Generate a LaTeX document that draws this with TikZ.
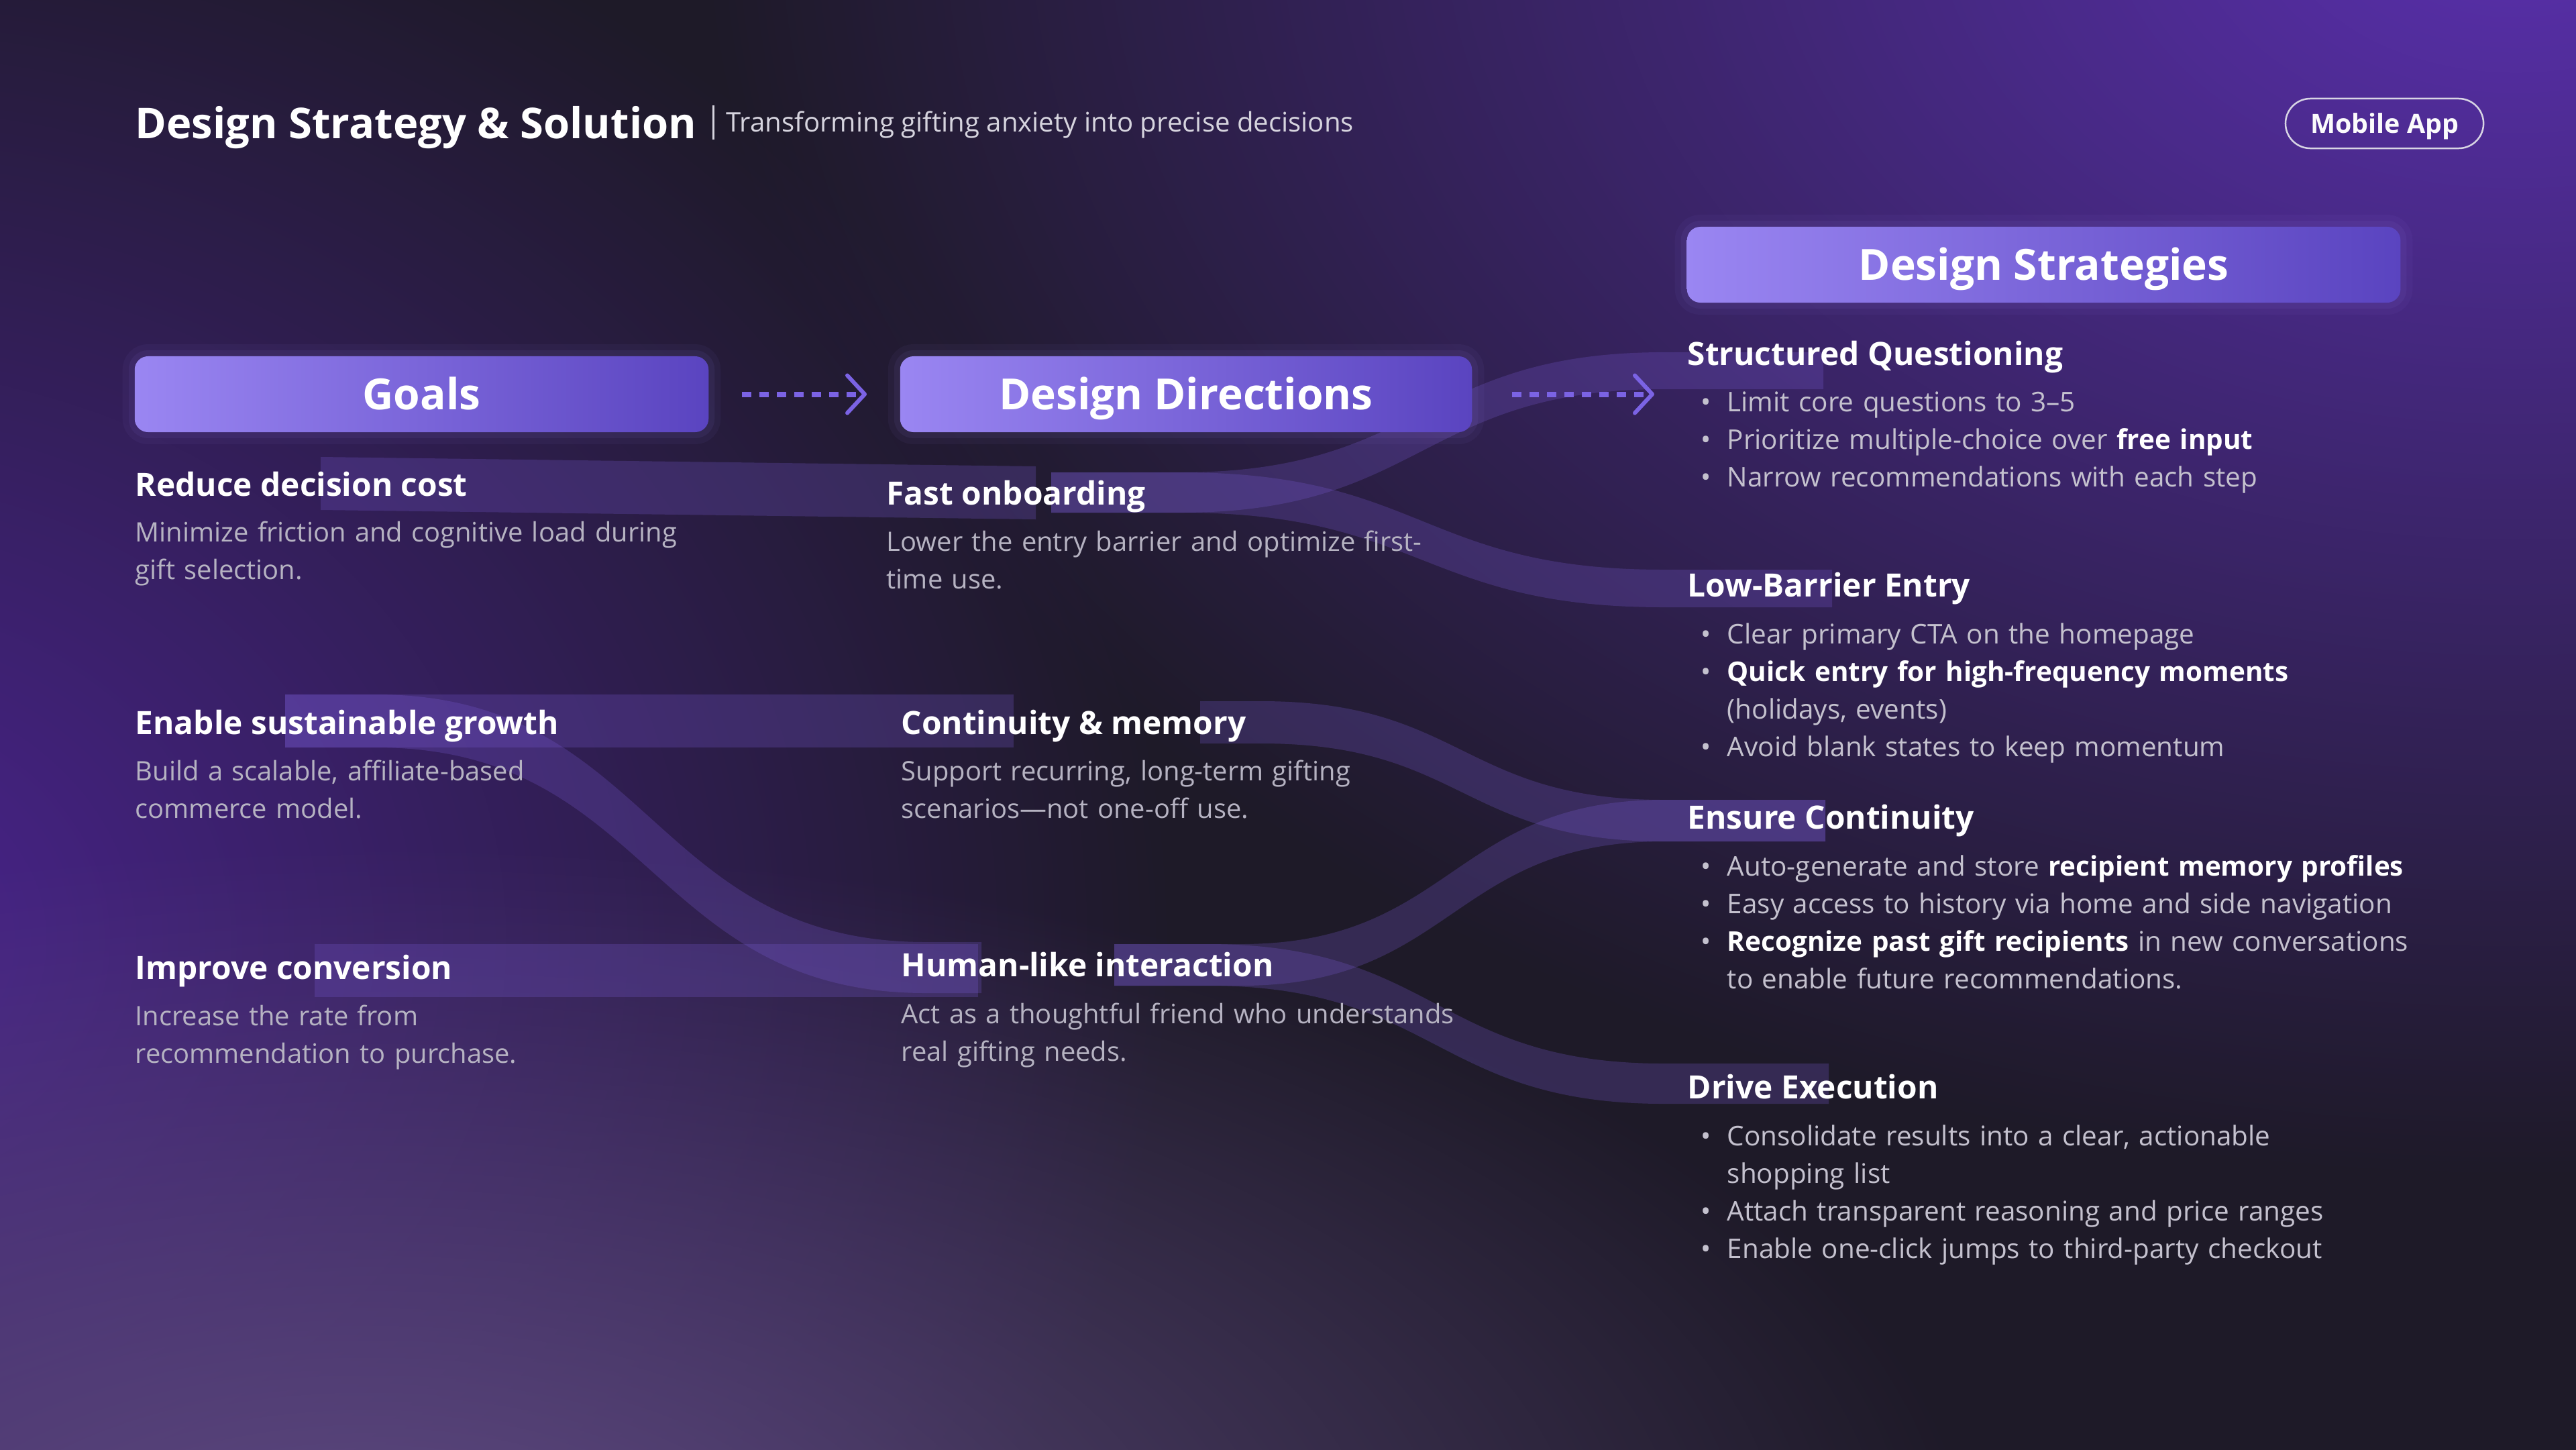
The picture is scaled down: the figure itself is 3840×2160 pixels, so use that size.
\documentclass[tikz,border=0pt]{standalone}
\usepackage{fontspec}
\setmainfont{Open Sans}
\usetikzlibrary{arrows.meta,fadings}

\definecolor{bgdark}{HTML}{1E1A28}
\definecolor{glowtop}{HTML}{5A30AE}
\definecolor{glowleft}{HTML}{4A248E}
\definecolor{glowlow}{HTML}{5E4A80}
\definecolor{boxlight}{HTML}{9A86F2}
\definecolor{boxdark}{HTML}{5A44C0}
\definecolor{bandpurple}{HTML}{7A5CD6}
\definecolor{dashpurple}{HTML}{7B63E4}
\definecolor{subgray}{HTML}{D6D4DE}
\definecolor{descgray}{HTML}{B6B3C2}
\definecolor{listgray}{HTML}{C4C1CE}
\definecolor{pillline}{HTML}{D8D5E4}

\tikzfading[name=softglow, inner color=transparent!0, outer color=transparent!100]

\newcommand{\bitem}[1]{\noindent\hangindent=0.59cm\hangafter=1\makebox[0.59cm][l]{\hspace{0.2cm}\textbullet}#1\par}
\newcommand{\hl}[1]{{\bfseries\color{white}#1}}

\begin{document}
\begin{tikzpicture}[x=0.01cm,y=-0.01cm,
  headbox/.style={shade,left color=boxlight,right color=boxdark,rounded corners=0.2cm,
    minimum height=1.13cm,inner sep=0pt,text height=0.46cm,text depth=0cm,text=white,
    font=\fontsize{18.2}{22}\selectfont\bfseries,
    preaction={draw=boxlight,line width=0.36cm,opacity=0.05},
    preaction={draw=boxlight,line width=0.18cm,opacity=0.07}},
  titletext/.style={anchor=base west,inner sep=0pt,text=white,font=\fontsize{18}{22}\selectfont\bfseries},
  subtitle/.style={anchor=base west,inner sep=0pt,text=subgray,font=\fontsize{11.42}{14}\selectfont},
  pill/.style={draw=pillline,line width=0.025cm,rounded corners=0.37cm,minimum width=2.95cm,
    minimum height=0.74cm,inner sep=0pt,text height=0.28cm,text depth=0cm,text=white!90!pillline,
    font=\fontsize{11.2}{14}\selectfont\bfseries},
  itemtitle/.style={anchor=base west,inner sep=0pt,text=white,font=\fontsize{13.6}{17}\selectfont\bfseries},
  itemdesc/.style={anchor=base west,inner sep=0pt,text width=10cm,align=left,text=descgray,
    font=\fontsize{11.35}{16}\selectfont},
  stratlist/.style={anchor=base west,inner sep=0pt,text width=12cm,text=listgray,
    font=\fontsize{11.5}{16}\selectfont},
  band/.style={fill=bandpurple,fill opacity=0.25},
  flowarrow/.style={draw=dashpurple,line width=0.08cm,dash pattern=on 0.14cm off 0.12cm,
    -{Straight Barb[length=0.26cm,width=0.56cm,line width=0pt 0.75,round]}}
]

% background with soft purple glows
\useasboundingbox (0,0) rectangle (3840,2160);
\fill[bgdark] (-20,-20) rectangle (3860,2180);
\fill[glowtop,path fading=softglow] (3750,-150) ellipse (2700 and 1900);
\fill[glowleft,path fading=softglow] (-250,1400) ellipse (2000 and 1700);
\fill[glowlow,path fading=softglow] (550,2350) ellipse (2400 and 1100);

% ribbons: goals -> directions
\fill[band] (478,681) -- (1544,695) -- (1544,774) -- (478,760) -- cycle;
\fill[band] (425,1035) rectangle (1511,1114);
\fill[band] (425,1035) -- (560,1035) .. controls (970,1035) and (970,1404) .. (1380,1404)
  -- (1463,1404) -- (1463,1480) -- (1380,1480) .. controls (970,1480) and (970,1114) .. (560,1114)
  -- (425,1114) -- cycle;
\fill[band] (469,1407) rectangle (1458,1486);

% ribbons: directions -> strategies
\fill[band] (1567,704) -- (1760,704) .. controls (2120,704) and (2120,525) .. (2480,525)
  -- (2718,525) -- (2718,580) -- (2480,580) .. controls (2120,580) and (2120,764) .. (1760,764)
  -- (1567,764) -- cycle;
\fill[band] (1567,704) -- (1760,704) .. controls (2120,704) and (2120,849) .. (2480,849)
  -- (2731,849) -- (2731,905) -- (2480,905) .. controls (2120,905) and (2120,764) .. (1760,764)
  -- (1567,764) -- cycle;
\fill[band] (1789,1045) -- (1880,1045) .. controls (2180,1045) and (2180,1192) .. (2480,1192)
  -- (2721,1192) -- (2721,1254) -- (2480,1254) .. controls (2180,1254) and (2180,1108) .. (1880,1108)
  -- (1789,1108) -- cycle;
\fill[band] (1661,1407) -- (1850,1407) .. controls (2165,1407) and (2165,1192) .. (2480,1192)
  -- (2721,1192) -- (2721,1254) -- (2480,1254) .. controls (2165,1254) and (2165,1469) .. (1850,1469)
  -- (1661,1469) -- cycle;
\fill[band] (1661,1407) -- (1800,1407) .. controls (2140,1407) and (2140,1585) .. (2480,1585)
  -- (2726,1585) -- (2726,1645) -- (2480,1645) .. controls (2140,1645) and (2140,1469) .. (1800,1469)
  -- (1661,1469) -- cycle;

% page title
\node[titletext] (title) at (201,206) {Design Strategy \& Solution};
\draw[subgray,line width=0.03cm] (1063,157) -- (1063,208);
\node[subtitle] (subtitle) at (1082,196) {Transforming gifting anxiety into precise decisions};
\node[pill] (platform) at (3554.5,184) {Mobile App};

% column headers
\node[headbox,minimum width=8.55cm] (goals) at (628.5,587.5) {Goals};
\node[headbox,minimum width=8.52cm] (dirs) at (1768,587.5) {Design Directions};
\node[headbox,minimum width=10.63cm] (strats) at (3046.5,394.5) {Design Strategies};
\coordinate (stratsin) at (2515,587.5);

\draw[flowarrow,shorten <=0.49cm,shorten >=0.49cm] (goals) -- (dirs);
\draw[flowarrow,shorten <=0.59cm,shorten >=0.49cm] (dirs) -- (stratsin);

% goals
\node[itemtitle] (g1) at (201,739) {Reduce decision cost};
\node[itemdesc] (g1d) at (201,807) {Minimize friction and cognitive load during\\gift selection.};
\node[itemtitle] (g2) at (201,1094) {Enable sustainable growth};
\node[itemdesc] (g2d) at (201,1163) {Build a scalable, affiliate-based\\commerce model.};
\node[itemtitle] (g3) at (201,1459) {Improve conversion};
\node[itemdesc] (g3d) at (201,1528) {Increase the rate from\\recommendation to purchase.};

% directions
\node[itemtitle] (d1) at (1321,752) {Fast onboarding};
\node[itemdesc] (d1d) at (1321,821) {Lower the entry barrier and optimize first-\\time use.};
\node[itemtitle] (d2) at (1343,1094) {Continuity \& memory};
\node[itemdesc] (d2d) at (1343,1163) {Support recurring, long-term gifting\\scenarios—not one-off use.};
\node[itemtitle] (d3) at (1343,1455) {Human-like interaction};
\node[itemdesc] (d3d) at (1343,1525) {Act as a thoughtful friend who understands\\real gifting needs.};

% strategies
\node[itemtitle] (s1) at (2515,544) {Structured Questioning};
\node[stratlist] (s1l) at (2515,613) {\bitem{Limit core questions to 3–5}%
  \bitem{Prioritize multiple-choice over \hl{free input}}%
  \bitem{Narrow recommendations with each step}};
\node[itemtitle] (s2) at (2515,889) {Low-Barrier Entry};
\node[stratlist] (s2l) at (2515,959) {\bitem{Clear primary CTA on the homepage}%
  \bitem{\hl{Quick entry for high-frequency moments}\newline(holidays, events)}%
  \bitem{Avoid blank states to keep momentum}};
\node[itemtitle] (s3) at (2515,1235) {Ensure Continuity};
\node[stratlist] (s3l) at (2515,1305) {\bitem{Auto-generate and store \hl{recipient memory profiles}}%
  \bitem{Easy access to history via home and side navigation}%
  \bitem{\hl{Recognize past gift recipients} in new conversations\newline to enable future recommendations.}};
\node[itemtitle] (s4) at (2515,1637) {Drive Execution};
\node[stratlist] (s4l) at (2515,1707) {\bitem{Consolidate results into a clear, actionable\newline shopping list}%
  \bitem{Attach transparent reasoning and price ranges}%
  \bitem{Enable one-click jumps to third-party checkout}};

\end{tikzpicture}
\end{document}
